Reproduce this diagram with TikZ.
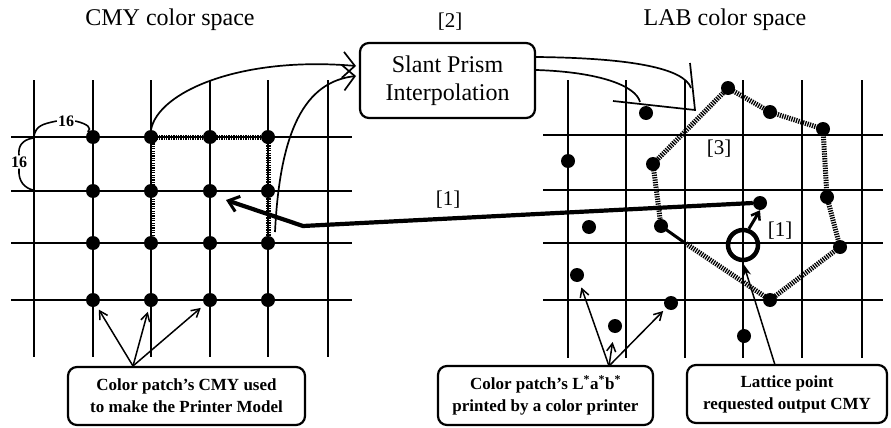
\documentclass[tikz,border=0pt]{standalone}
\usepackage{fontspec}
\setmainfont{Liberation Serif}
\usetikzlibrary{arrows.meta}
\begin{document}
\begin{tikzpicture}[x=1pt,y=-1pt,
  gridline/.style={line width=2.8pt},
  dotn/.style={circle,fill=black,inner sep=0pt,minimum size=14pt},
  hatch/.style={line width=5pt,dash pattern=on 1.3pt off 1.1pt},
  thinarrow/.style={line width=1.5pt,-{Straight Barb[length=8pt,width=9pt,line width=1.5pt]}},
  bigbarb/.style={line width=1.7pt,-{Straight Barb[length=12pt,width=26pt,line width=1.7pt]}},
  box/.style={draw,line width=2.2pt,rounded corners=9pt,align=center,fill=white,inner sep=0pt},
  bigtext/.style={font=\fontsize{24}{28}\selectfont},
  lbl/.style={font=\fontsize{21}{24}\selectfont},
  boxtext/.style={font=\bfseries\fontsize{17}{22}\selectfont},
  sixteen/.style={font=\bfseries\fontsize{16}{18}\selectfont,inner sep=1pt}]
\useasboundingbox (0,0) rectangle (891,428);
\fill[white] (0,0) rectangle (891,428);

% titles
\node[bigtext] (t1) at (170,20) {CMY color space};
\node[lbl] (t2) at (450,22) {[2]};
\node[bigtext] (t3) at (725,20) {LAB color space};

% left grid
\foreach \x in {34,93,151,210,268,328} \draw[gridline] (\x,80) -- (\x,357);
\foreach \y in {137,191,243,300} \draw[gridline] (11,\y) -- (352,\y);
% hatched block
\draw[hatch] (152,243) -- (152,137) -- (268,137) -- (268,243);
\foreach \i/\x in {1/93,2/151,3/210,4/268}
  \foreach \j/\y in {1/137,2/191,3/243,4/300}
    \node[dotn] (c\i\j) at (\x,\y) {};

% 16 brackets
\node[sixteen] (s1) at (66,121) {16};
\node[sixteen] (s2) at (19,162) {16};
\draw[line width=1.6pt] (34,136) .. controls (36,126) and (42,124) .. (s1.west);
\draw[line width=1.6pt] (s1.east) .. controls (88,124) and (92,128) .. (c11.north west);
\draw[line width=1.6pt] (33,138) .. controls (22,140) and (18,146) .. (s2.north);
\draw[line width=1.6pt] (s2.south) .. controls (18,182) and (25,188) .. (33,190);

% right grid
\foreach \x in {568,626,685,743,802,862} \draw[gridline] (\x,80) -- (\x,358);
\foreach \y in {135,190,243,300} \draw[gridline] (543,\y) -- (883,\y);

% polygon [3]
\coordinate (p1) at (653,164);
\coordinate (p2) at (728,88);
\coordinate (p3) at (770,112);
\coordinate (p4) at (823,129);
\coordinate (p5) at (827,197);
\coordinate (p6) at (840,247);
\coordinate (p7) at (770,300);
\coordinate (p8) at (661,226);
\draw[hatch] (p1) -- (p2) -- (p3) -- (p4) -- (p5) -- (p6) -- (p7) -- (685,243);
\draw[hatch] (p8) -- (p1);
\draw[line width=3pt] (p8) -- (685,243);
\foreach \n in {p1,p2,p3,p4,p5,p6,p7,p8} \node[dotn] (d\n) at (\n) {};

% other patches
\node[dotn] (r1) at (646,113) {};
\node[dotn] (r2) at (568,161) {};
\node[dotn] (tg) at (760,203) {};
\node[dotn] (r3) at (589,227) {};
\node[dotn] (r4) at (577,275) {};
\node[dotn] (r5) at (671,303) {};
\node[dotn] (r6) at (615,326) {};
\node[dotn] (r7) at (744,336) {};

% lattice point
\node[circle,draw,line width=4.5pt,minimum size=30pt,inner sep=0pt] (lp) at (743,245) {};
\draw[line width=3pt,-{Straight Barb[length=7pt,width=10pt,line width=2.5pt]}] (lp.70) -- (tg.south);
\node[lbl] (l1b) at (780,231) {[1]};
\node[lbl] (l3) at (719,149) {[3]};

% [1] thick arrow
\coordinate (bend) at (303,226);
\draw[line width=4.2pt,-{Straight Barb[length=10pt,width=16pt,line width=3pt]}] (tg.west) -- (bend) -- (226,200);
\node[lbl] (l1a) at (448,200) {[1]};

% Slant prism box
\node[box,bigtext,minimum width=175pt,minimum height=75pt] (sp) at (447.5,80.5) {Slant Prism\\Interpolation};
\draw[bigbarb] (c21.north) .. controls (158,92) and (240,56) .. (356,66);
\draw[bigbarb] (275,232) .. controls (280,130) and (305,82) .. (356,76);

% outputs from box
\draw[line width=1.7pt] (sp.east |- 0,57) .. controls (630,58) and (684,68) .. (691,88);
\draw[line width=1.7pt] (690,63) -- (695,110) -- (613,101);
\draw[line width=1.7pt] (sp.east |- 0,70) .. controls (600,72) and (636,86) .. (640,102);

% bottom boxes
\node[box,boxtext,minimum width=237pt,minimum height=58pt] (ba) at (186.5,396) {Color patch's CMY used\\to make the Printer Model};
\node[box,boxtext,minimum width=215pt,minimum height=59pt] (bb) at (545.5,395.5) {Color patch's L\textsuperscript{*}a\textsuperscript{*}b\textsuperscript{*}\\printed by a color printer};
\node[box,boxtext,minimum width=200pt,minimum height=58pt] (bc) at (787,394) {Lattice point\\requested output CMY};

\coordinate (a0) at (133,366);
\draw[thinarrow,shorten >=4pt] (a0) -- (c14);
\draw[thinarrow,shorten >=5pt] (a0) -- (c24);
\draw[thinarrow,shorten >=5pt] (a0) -- (c34);
\coordinate (b0) at (609,366);
\draw[thinarrow,shorten >=6pt] (b0) -- (r4);
\draw[thinarrow,shorten >=9pt] (b0) -- (r6);
\draw[thinarrow,shorten >=4pt] (b0) -- (r5);
\coordinate (c0) at (775,365);
\draw[line width=1.5pt,-{Stealth[length=12pt,width=8pt]},shorten >=2pt] (c0) -- (lp.south);
\end{tikzpicture}
\end{document}
